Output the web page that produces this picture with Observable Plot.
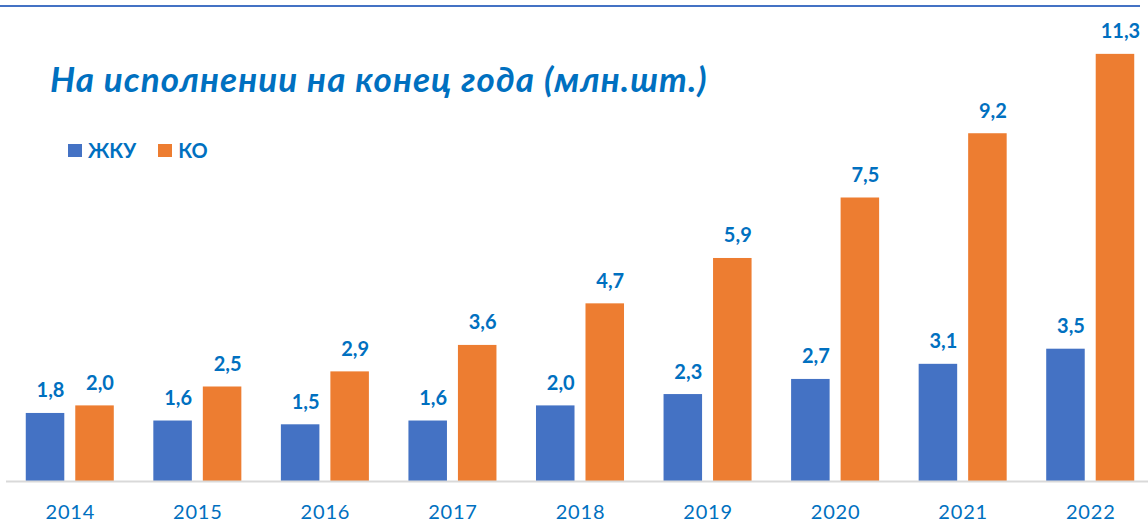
<!DOCTYPE html>
<html>
<head>
<meta charset="utf-8">
<script src="https://cdn.jsdelivr.net/npm/d3@7"></script>
<script src="https://cdn.jsdelivr.net/npm/@observablehq/plot@0.6"></script>
<style>
  html, body { margin: 0; padding: 0; background: #fff; }
  #wrap { position: relative; width: 1148px; height: 527px; overflow: hidden; font-family: Lato, "Open Sans", sans-serif; }
  #topline { position: absolute; left: 0; top: 5px; width: 1140px; height: 2px; background: #4472C4; }
  #title { position: absolute; left: 50px; top: 58px; font-size: 35px; letter-spacing: 1.1px; font-weight: bold; font-style: italic; color: #0070C0; white-space: nowrap; line-height: 40px; }
  #legend { position: absolute; left: 68px; top: 139px; display: flex; align-items: center; font-size: 20px; font-weight: bold; color: #0070C0; line-height: 22px; }
  .sw { display: inline-block; width: 14px; height: 13px; margin-right: 6px; }
  .item { display: flex; align-items: center; margin-right: 22px; }
  svg { position: absolute; left: 0; top: 0; }
  g[aria-label="x-axis tick label"] text { letter-spacing: 0.8px; }
</style>
</head>
<body>
<div id="wrap">
  <div id="topline"></div>
</div>
<script>
const years = ["2014","2015","2016","2017","2018","2019","2020","2021","2022"];
const seriesNames = ["ЖКУ", "КО"];
const zhku = [1.8, 1.6, 1.5, 1.6, 2.0, 2.3, 2.7, 3.1, 3.5];
const ko = [2.0, 2.5, 2.9, 3.6, 4.7, 5.9, 7.5, 9.2, 11.3];
const colors = ["#4472C4", "#ED7D31"];
const titleText = "На исполнении на конец года (млн.шт.)";

const dataA = years.map((y, i) => ({year: y, value: zhku[i], series: seriesNames[0]}));
const dataB = years.map((y, i) => ({year: y, value: ko[i], series: seriesNames[1]}));
const fmt = v => v.toFixed(1).replace(".", ",");

const off = 24.75;
const labelStyle = {fill: "#0070C0", fontSize: 20, fontWeight: "bold", lineAnchor: "bottom", dy: -16};

const chart = Plot.plot({
  width: 1148,
  height: 527,
  marginLeft: 6,
  marginRight: 0,
  marginTop: 0,
  marginBottom: 46,
  style: {fontFamily: "Lato, 'Open Sans', sans-serif", background: "transparent", overflow: "visible"},
  x: {type: "band", domain: years, range: [6, 1154], paddingInner: 0.698, paddingOuter: 0.349, round: false, axis: null},
  y: {domain: [0, 12], range: [481, 481 - 12 * 37.8], axis: null},
  marks: [
    Plot.barY(dataA, {x: "year", y: "value", fill: colors[0], dx: -off}),
    Plot.barY(dataB, {x: "year", y: "value", fill: colors[1], dx: off}),
    Plot.ruleY([0], {stroke: "#d9d9d9", strokeWidth: 2}),
    Plot.text(dataA, {x: "year", y: "value", text: d => fmt(d.value), ...labelStyle, dx: -off + 5}),
    Plot.text(dataB, {x: "year", y: "value", text: d => fmt(d.value), ...labelStyle, dx: off + 5}),
    Plot.axisX({tickSize: 0, tickPadding: 23, fontSize: 20, color: "#0070C0", fill: "#0070C0", label: null})
  ]
});

const wrap = document.getElementById("wrap");
wrap.appendChild(chart);

const title = document.createElement("div");
title.id = "title";
title.textContent = titleText;
wrap.appendChild(title);

const legend = document.createElement("div");
legend.id = "legend";
seriesNames.forEach((name, i) => {
  const item = document.createElement("span");
  item.className = "item";
  const sw = document.createElement("span");
  sw.className = "sw";
  sw.style.background = colors[i];
  item.appendChild(sw);
  item.appendChild(document.createTextNode(name));
  legend.appendChild(item);
});
wrap.appendChild(legend);
</script>
</body>
</html>
